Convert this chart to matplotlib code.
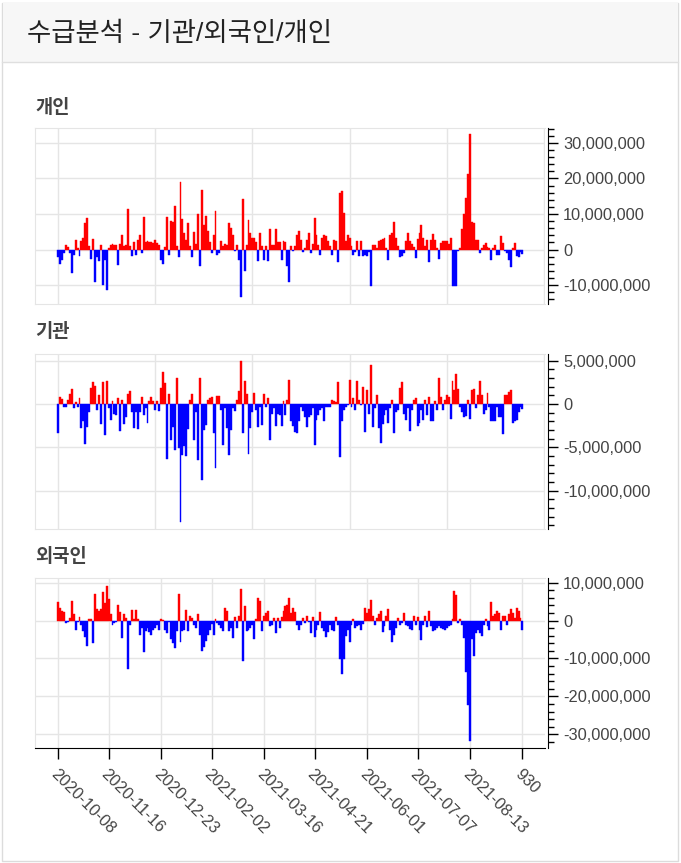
import numpy as np
import matplotlib
matplotlib.use('Agg')
import matplotlib.pyplot as plt
from matplotlib.ticker import MultipleLocator, FuncFormatter
from matplotlib.patches import Rectangle
from matplotlib.lines import Line2D
from matplotlib.transforms import ScaledTranslation

# 순매수 (단위: 백만주) - 개인 / 기관 / 외국인
personal = [
    -2, -4, -3, -1, 1.2, 0.6, -1, -6.5, -1.5, 2.6,
    0.5, -1.7, 2.4, 3.3, 7.5, 9, 1, -2.6, 3, -9,
    -2, -3.3, 1.2, -10, -3, -11.5, 0.5, 1.4, 1.6, 1.3,
    1.2, -4.2, 1.5, 4, 1, 1.2, 11.5, 1, -1.9, 2,
    -1.5, 2.8, 4.2, -1, 9.2, 2.2, 2.4, 2, 2.2, 1.8,
    2.6, 1.8, 1.2, -2.8, -4, 0.8, 9.2, -1.5, 8, 7.8,
    12.3, 1, -2, 19, 8.5, 4.7, 2.8, 7.5, 1, -2,
    4.9, 1.5, 9.9, -4.7, 16.8, 7, 9.4, 5.2, 2, -1,
    4.2, 10.8, -1.4, -1, 2.4, 1, 1.5, 1.2, 7.5, 6.1,
    4.2, -0.5, 1.4, -2.8, -13.2, 14.2, -6.1, 1.4, 8.2, 4.7,
    3.3, 3.3, 2, -3.3, 4.7, 1, -2.8, 1.1, -3.3, 5.7,
    1.4, 1.4, 5.7, 2, 2, -2.8, 2.4, 2, -4.7, -9.2,
    1.1, -0.5, 1, 4.2, 5.2, 2.8, -0.8, 0.5, 2.8, 4.7,
    -1, 1.5, 9, 4.2, 1.4, -1.4, 3.3, 4.2, 3.8, 2.4,
    1, -1.4, 2.8, 2.4, -3.6, 15.8, 16.5, 10.2, 2.4, 4,
    3.3, 1, -1.4, -0.8, 2.4, -1.9, 2.4, -1.9, -1.4, -1.9,
    -0.8, -10.1, 1.4, 1.4, 0.5, 2.4, 2.6, 3, 3.3, 0.5,
    -3, 4.2, 4.7, 7.7, 3.3, 1, -2, -1.9, -1, 2.4,
    4.7, 2.4, 1.7, 0.8, -2.4, 3, 4.7, 6.8, 3.3, 1,
    2.8, -3.6, 2.8, 4.5, 2.8, 0.5, -2.6, 1.9, 2.4, 2.4,
    2.4, 1.5, 3.3, -10.2, -10.2, -10.2, -0.5, 0.5, 5.7, 10,
    14.6, 21.2, 32.5, 7.7, 7.5, 2.8, 2.8, -1, 0.5, 1.4,
    1.9, 0.8, 0.5, -2.8, 0.5, 1.4, -1.4, -1.4, 3.8, 1.9,
    -0.5, -1, -2.8, -4.9, 0.5, 1.9, -1.9, -2, -0.8, -1.2,
]

institution = [
    -3.4, 0.8, 0.6, -0.3, -0.3, 0.5, 1.2, 1.7, -0.5, 0.2,
    -0.3, 0.7, -2.8, -2, -4.6, -2.7, -0.9, 1.9, 2.5, 2.1,
    -0.7, 1, -2.3, 2.5, -3.6, 2.6, -0.5, -1.9, 0.4, -1.1,
    -1.3, 0.7, -3.1, 0.5, -2.3, -1.5, 1.2, 1.5, -0.9, -2.8,
    -0.9, -2.9, -0.9, 0.8, -1.3, -0.5, -2.2, 0.3, 0.8, 0.3,
    -0.7, 0.3, -0.8, 1.8, 3.7, 2.4, -6.3, 1.2, -4.1, -2.6,
    -5.3, 3, -5.1, -13.6, -5.9, -4.9, -6, -2.9, 0.5, 1.1,
    -4.2, -0.9, -6.5, 3, -8.8, -3, -2.4, 0.5, 0.7, 0.8,
    -3.4, -7.4, 0.9, 0.9, -0.7, -4.7, -0.5, -2.8, -5.9, -3,
    -0.5, -0.8, 0.5, 1.5, 5, -3.4, 2.6, 1.2, -5.8, -2.8,
    -0.9, 1.3, -0.7, -2.7, -0.3, -2.4, 1.2, -0.4, 0.7, -4.2,
    -1.2, -0.5, -2.5, -1.1, -1.3, -2.5, 0.3, -1.3, 0.5, 2.8,
    -2, -2.5, -3.2, -3.3, -2, -0.3, -0.8, -1.5, -2.7, -1.5,
    -1.3, -0.5, -4.7, -1.8, -1.3, -0.7, -0.5, -2, -0.3, -0.4,
    -0.3, 0.5, 0.3, 0.2, 2.5, -6.1, -2, -0.7, -0.3, -0.1,
    2.8, -0.4, 0.7, -0.7, 2.7, 0.5, -0.1, 2, -3.2, 1.6,
    -1.1, 4.5, -2.6, -0.5, 1, -2.8, -4.5, -2.3, -1.3, -0.7,
    -2.2, -0.5, 0.5, -3.4, -0.9, -0.7, 1.8, 2.5, -1.1, -1.8,
    -0.5, -3.1, -0.7, 0.5, 0.7, -2.5, -2.2, -0.7, -1.9, 0.5,
    -1.3, 0.8, -2, -2, 0.3, -0.7, 3, 0.8, -0.7, 0.5,
    1, 0.8, -1.7, 2.6, 1.6, 3.5, 1.7, -0.3, -0.9, -1.5,
    -1.4, 0.5, -1.7, 1.6, 1.7, -0.5, 1, 2.6, 1, -1.1,
    -0.7, 1.3, -0.3, -2, -2, -2, -0.3, -1.5, -1.5, -3.5,
    1, 1, 1.4, 1.6, -2.2, -2, -1.8, -0.9, -0.3, -0.6,
]

foreign = [
    4.8, 3.3, 2.5, 2.2, -0.6, -0.4, 0.7, 5.1, 1.6, -2.6,
    -0.5, 1, -1.3, -2.8, -4.3, -6.6, 0.4, 0.4, -5.9, 7.1,
    2.9, 2.5, 3.1, 7.6, 4.7, 9.2, 5.7, 1.6, -1.3, -0.6,
    -0.3, 4, 2.2, -4.6, 1.6, 0.7, -12.8, -1.1, 2.7, 0.3,
    2.7, 0.4, -3.7, -1.9, -8.4, -2.8, -1.9, -3.1, -3.7, -2.6,
    -1.9, -1.1, -2.4, 0.4, 0.2, -2.4, -3.3, -0.4, -5, -5.9,
    -7.2, -2.8, 7.1, -5.7, -2.8, -2.4, 2.7, -2.8, 1.1, 0.7,
    -1.1, -1.9, 1.8, -3.7, -8.1, -6.9, -5.5, -3.7, -2.4, -0.8,
    -3.7, 0.3, -0.6, -1.3, -1.9, -2.8, 3.3, 2.5, -2.8, -1.9,
    -4.6, 1, -1.9, 1.1, 8.4, -10.7, 3.8, -2.8, -2.4, -1.9,
    -1.1, -5, 0.4, 6, 5.1, -2.8, 1.3, 2, 2.5, -1.5,
    -1.3, 0.7, -3.3, 0.7, -1.9, 0.9, 2.5, 3.8, 4.2, 6,
    2, 3.3, 2.2, -1.1, -2.4, -1.3, 0.7, -0.6, 1.3, -0.4,
    -3.4, 1, -4.3, -2.6, -1.1, 2.2, -1.9, -2.8, -4.3, -3.1,
    -1.1, -2.6, -2.8, 1, -1.1, -10.1, -14.2, -10.1, -4.1, -2.6,
    -5.7, -1.1, 0.4, -1.9, -1.5, -1.1, -2.4, -0.8, 3.3, 2,
    2.9, 5.4, 1.3, -1.3, 0.7, 1.6, 2.5, -3.1, -1.5, 1.1,
    2.9, -2.6, -5.7, -3.7, -1.9, 0.7, -1.1, -0.6, 2, -1.1,
    -1.5, -2.2, -2.6, 1.1, -1.3, 1, -2.4, -5.2, -1.1, 1.1,
    -1.7, 2.5, -1.5, -2.8, -2.4, -1.9, -1.5, -1.9, -2.2, -2.4,
    -1.9, -1.5, -1.1, 0.4, 7.7, 6.6, -0.6, 0.3, -1.1, -4.6,
    -13.6, -22.2, -31.8, -5, -9.4, -3.3, -2.6, -3.4, -4, -1.1,
    0.4, -1.5, -2.6, 4.8, 1.1, 1.6, 2.5, 2, -2.4, 1.3,
    1.1, -1.3, 1.6, 3.1, 2, 0.7, 3.3, 2.5, 0.7, -2.6,
]

tick_labels = ['2020-10-08', '2020-11-16', '2020-12-23', '2021-02-02', '2021-03-16',
               '2021-04-21', '2021-06-01', '2021-07-07', '2021-08-13', '930']

plt.rcParams['font.family'] = ['Liberation Sans', 'Noto Sans CJK KR', 'DejaVu Sans']

W, H = 681, 863
fig = plt.figure(figsize=(W / 100, H / 100), dpi=100)


def box(left, top, right, bottom):
    return [left / W, 1 - bottom / H, (right - left) / W, (bottom - top) / H]


# 카드 배경 / 헤더 (축 뒤에 그림)
fig.add_artist(Rectangle((2 / W, 2 / H), 676 / W, 858 / H, transform=fig.transFigure,
                         fc='white', ec='#dcdcdc', lw=1, zorder=-10))
fig.add_artist(Rectangle((2.5 / W, 1 - 62 / H), 675 / W, 59.5 / H, transform=fig.transFigure,
                         fc='#f7f7f7', ec='none', zorder=-9))
fig.add_artist(Line2D([2 / W, 678 / W], [1 - 62 / H, 1 - 62 / H], transform=fig.transFigure,
                      color='#dfdfdf', lw=1, zorder=-8))
fig.text(27 / W, 1 - 34 / H, '수급분석 - 기관/외국인/개인', fontsize=19,
         va='center', ha='left', color='#222222')

panels = [
    ('개인', personal, (35, 128, 545, 304), (-15.3e6, 34.2e6), 10e6, 108),
    ('기관', institution, (35, 354, 545, 529), (-14.43e6, 5.77e6), 5e6, 332),
    ('외국인', foreign, (35, 578, 545, 748), (-33.6e6, 11.2e6), 10e6, 557),
]

n = len(personal)
x = np.arange(n)
xticks = np.linspace(0, n - 1, len(tick_labels)).astype(int)

for i, (name, vals, pos, ylim, major, ty) in enumerate(panels):
    vals = np.array(vals) * 1e6
    ax = fig.add_axes(box(*pos))
    ax.patch.set_alpha(0)
    colors = np.where(vals >= 0, 'red', 'blue')
    ax.bar(x, vals, width=1.0, color=colors, edgecolor=colors, linewidth=0.3)
    ax.set_xlim(-11.9, 250.6)
    ax.set_ylim(*ylim)

    ax.yaxis.tick_right()
    ax.yaxis.set_major_locator(MultipleLocator(major))
    ax.yaxis.set_minor_locator(MultipleLocator(major / 5))
    ax.yaxis.set_major_formatter(FuncFormatter(lambda v, p: f'{int(round(v)):,}'))
    ax.tick_params(axis='y', which='major', length=7, width=1, labelsize=11.8,
                   labelcolor='#444444', pad=4)
    ax.tick_params(axis='y', which='minor', length=4, width=1)

    ax.grid(True, which='major', color='#e5e5e5', lw=1)
    ax.set_axisbelow(True)
    for s in ['left', 'top', 'bottom']:
        ax.spines[s].set_color('#e5e5e5')
    ax.spines['right'].set_color('black')
    ax.spines['right'].set_position(('outward', 2))

    if i < 2:
        ax.xaxis.set_major_locator(MultipleLocator(50))
        ax.tick_params(axis='x', length=0, labelbottom=False)
    else:
        ax.spines['bottom'].set_color('black')
        ax.set_xticks(xticks)
        ax.set_xticklabels(tick_labels, rotation=-45, ha='left', va='center',
                           rotation_mode='anchor')
        ax.tick_params(axis='x', length=8, width=1, labelsize=11.8,
                       labelcolor='#444444', pad=9)
        shift = ScaledTranslation(-5 / 100, 0, fig.dpi_scale_trans)
        for lab in ax.get_xticklabels():
            lab.set_transform(lab.get_transform() + shift)

    fig.text(35 / W, 1 - ty / H, name, fontsize=13.5, fontweight='bold',
             va='center', ha='left', color='#444444')

fig.savefig('out.png', dpi=100)
